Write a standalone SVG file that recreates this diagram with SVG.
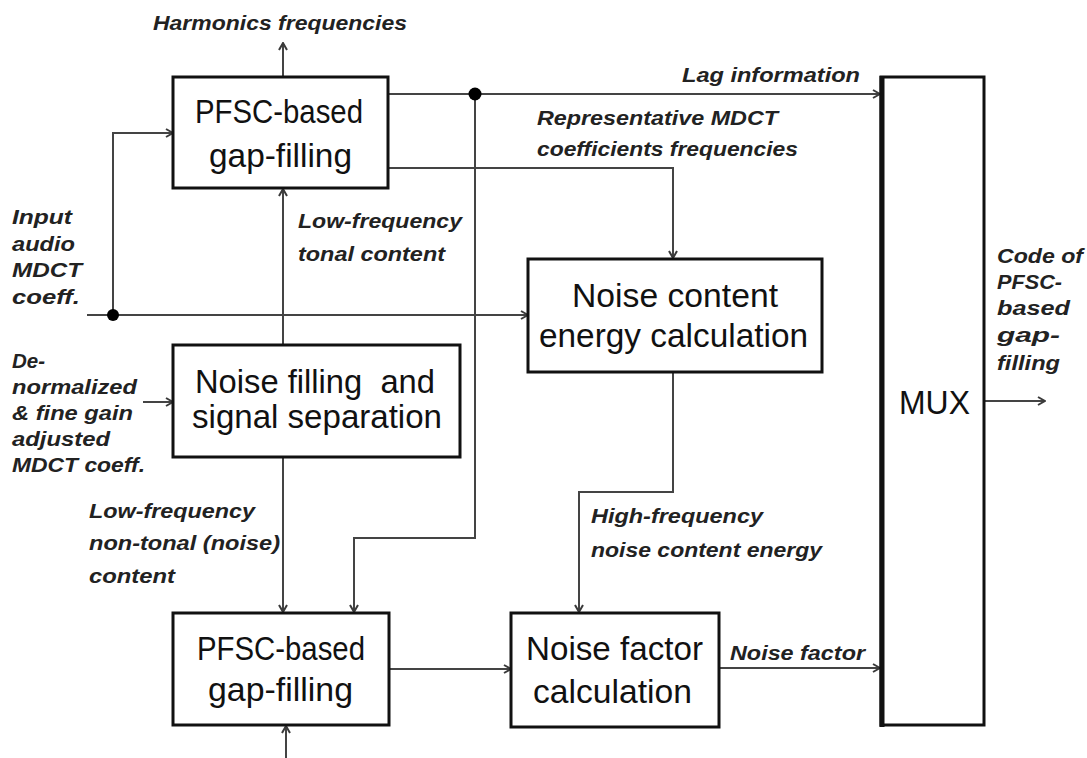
<svg xmlns="http://www.w3.org/2000/svg" width="1087" height="758" viewBox="0 0 1087 758">
<defs>
<marker id="arr" viewBox="0 0 10 10" markerWidth="10" markerHeight="10" refX="9" refY="5" orient="auto" markerUnits="userSpaceOnUse">
<path d="M2,1 L9,5 L2,9" fill="none" stroke="#3a3a3a" stroke-width="2"/>
</marker>
</defs>
<style>
.box{fill:#fff;stroke:#111;stroke-width:3}
.bt{font-family:"Liberation Sans",Arial,sans-serif;font-size:33px;fill:#111}
.lb{font-family:"Liberation Sans",Arial,sans-serif;font-size:20px;font-weight:bold;font-style:italic;fill:#222}
.ln{fill:none;stroke:#444;stroke-width:2}
.ar{marker-end:url(#arr)}
</style>
<rect width="1087" height="758" fill="#fff"/>

<g id="connectors">
<path class="ln ar" d="M283,77 L283,43"/>
<path class="ln ar" d="M113,315 L113,133 L173,133"/>
<path class="ln ar" d="M87,315 L528,315"/>
<path class="ln ar" d="M143,402 L173,402"/>
<path class="ln ar" d="M283,345 L283,189"/>
<path class="ln ar" d="M283,457 L283,612"/>
<path class="ln ar" d="M388,94 L880,94"/>
<path class="ln ar" d="M475,94 L475,538 L354,538 L354,612"/>
<path class="ln ar" d="M388,168 L673,168 L673,258"/>
<path class="ln ar" d="M389,669 L511,669"/>
<path class="ln ar" d="M286,758 L286,726"/>
<path class="ln ar" d="M673,372 L673,492 L579,492 L579,612"/>
<path class="ln ar" d="M719,668 L880,668"/>
<path class="ln ar" d="M985,401 L1045,401"/>
<circle cx="113" cy="315" r="6" fill="#000"/>
<circle cx="475" cy="94" r="6.5" fill="#000"/>
</g>

<g id="top-pfsc">
<rect class="box" x="173" y="77" width="215" height="111"/>
<text class="bt" x="195" y="123" textLength="168" lengthAdjust="spacingAndGlyphs">PFSC-based</text>
<text class="bt" x="209" y="167" textLength="143" lengthAdjust="spacingAndGlyphs">gap-filling</text>
</g>

<g id="noise-filling">
<rect class="box" x="173" y="345" width="287" height="112"/>
<text class="bt" x="195" y="393" textLength="240" lengthAdjust="spacingAndGlyphs" xml:space="preserve">Noise filling  and</text>
<text class="bt" x="192" y="428" textLength="250" lengthAdjust="spacingAndGlyphs">signal separation</text>
</g>

<g id="bottom-pfsc">
<rect class="box" x="173" y="613" width="216" height="112"/>
<text class="bt" x="197" y="660" textLength="168" lengthAdjust="spacingAndGlyphs">PFSC-based</text>
<text class="bt" x="208" y="701" textLength="145" lengthAdjust="spacingAndGlyphs">gap-filling</text>
</g>

<g id="noise-content">
<rect class="box" x="528" y="259" width="294" height="113"/>
<text class="bt" x="572" y="307" textLength="206" lengthAdjust="spacingAndGlyphs">Noise content</text>
<text class="bt" x="539" y="347" textLength="269" lengthAdjust="spacingAndGlyphs">energy calculation</text>
</g>

<g id="noise-factor">
<rect class="box" x="511" y="613" width="208" height="114"/>
<text class="bt" x="526" y="660" textLength="177" lengthAdjust="spacingAndGlyphs">Noise factor</text>
<text class="bt" x="533" y="703" textLength="159" lengthAdjust="spacingAndGlyphs">calculation</text>
</g>

<g id="mux">
<rect class="box" x="881" y="77" width="103" height="648"/>
<line x1="882" y1="76" x2="882" y2="727" stroke="#111" stroke-width="5"/>
<text class="bt" x="899" y="414" textLength="71" lengthAdjust="spacingAndGlyphs">MUX</text>
</g>

<g id="labels" lengthAdjust="spacingAndGlyphs">
<text class="lb" x="153" y="30" textLength="254" lengthAdjust="spacingAndGlyphs">Harmonics frequencies</text>
<text class="lb" x="682" y="82" textLength="178" lengthAdjust="spacingAndGlyphs">Lag information</text>
<text class="lb" x="537" y="125" textLength="241" lengthAdjust="spacingAndGlyphs">Representative MDCT</text>
<text class="lb" x="537" y="156" textLength="261" lengthAdjust="spacingAndGlyphs">coefficients frequencies</text>
<text class="lb" x="298" y="228" textLength="164" lengthAdjust="spacingAndGlyphs">Low-frequency</text>
<text class="lb" x="298" y="261" textLength="147" lengthAdjust="spacingAndGlyphs">tonal content</text>
<text class="lb" x="12" y="224" textLength="60" lengthAdjust="spacingAndGlyphs">Input</text>
<text class="lb" x="12" y="251" textLength="63" lengthAdjust="spacingAndGlyphs">audio</text>
<text class="lb" x="12" y="277" textLength="70" lengthAdjust="spacingAndGlyphs">MDCT</text>
<text class="lb" x="12" y="304" textLength="68" lengthAdjust="spacingAndGlyphs">coeff.</text>
<text class="lb" x="12" y="368" textLength="33" lengthAdjust="spacingAndGlyphs">De-</text>
<text class="lb" x="12" y="394" textLength="125" lengthAdjust="spacingAndGlyphs">normalized</text>
<text class="lb" x="12" y="420" textLength="121" lengthAdjust="spacingAndGlyphs">&amp; fine gain</text>
<text class="lb" x="12" y="446" textLength="98" lengthAdjust="spacingAndGlyphs">adjusted</text>
<text class="lb" x="12" y="472" textLength="133" lengthAdjust="spacingAndGlyphs">MDCT coeff.</text>
<text class="lb" x="89" y="518" textLength="166" lengthAdjust="spacingAndGlyphs">Low-frequency</text>
<text class="lb" x="89" y="550" textLength="191" lengthAdjust="spacingAndGlyphs">non-tonal (noise)</text>
<text class="lb" x="89" y="583" textLength="86" lengthAdjust="spacingAndGlyphs">content</text>
<text class="lb" x="591" y="523" textLength="172" lengthAdjust="spacingAndGlyphs">High-frequency</text>
<text class="lb" x="591" y="557" textLength="231" lengthAdjust="spacingAndGlyphs">noise content energy</text>
<text class="lb" x="730" y="660" textLength="135" lengthAdjust="spacingAndGlyphs">Noise factor</text>
<text class="lb" x="997" y="263" textLength="86" lengthAdjust="spacingAndGlyphs">Code of</text>
<text class="lb" x="997" y="289" textLength="65" lengthAdjust="spacingAndGlyphs">PFSC-</text>
<text class="lb" x="997" y="315" textLength="73" lengthAdjust="spacingAndGlyphs">based</text>
<text class="lb" x="997" y="342" textLength="63" lengthAdjust="spacingAndGlyphs">gap-</text>
<text class="lb" x="997" y="370" textLength="63" lengthAdjust="spacingAndGlyphs">filling</text>
</g>
</svg>
